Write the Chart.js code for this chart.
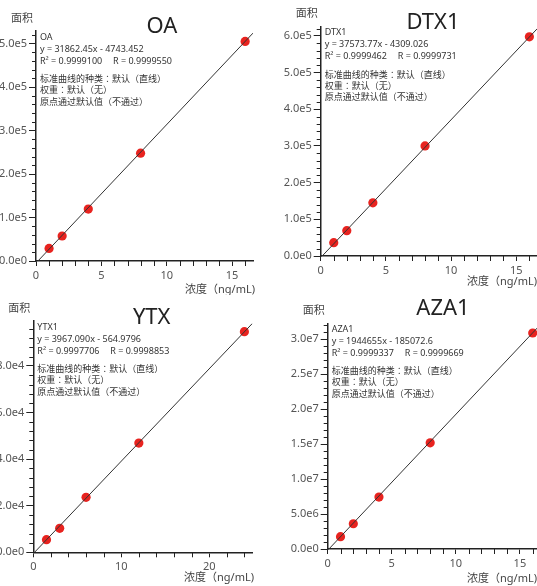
<!DOCTYPE html>
<html>
<head>
<meta charset="utf-8">
<script src="https://cdn.jsdelivr.net/npm/chart.js@4/dist/chart.umd.min.js"></script>
<style>
  html, body { margin: 0; padding: 0; background: #fff; overflow: hidden; width: 537px; height: 586px; }
  .panel { position: absolute; }
  canvas { display: block; }
</style>
</head>
<body>
<div class="panel" style="left:0;top:0"><canvas id="c0" width="268" height="295"></canvas></div>
<div class="panel" style="left:268px;top:0"><canvas id="c1" width="290" height="295"></canvas></div>
<div class="panel" style="left:0;top:295px"><canvas id="c2" width="268" height="291"></canvas></div>
<div class="panel" style="left:268px;top:295px"><canvas id="c3" width="290" height="291"></canvas></div>
<script>
// --- data ---
const titles = ['OA', 'DTX1', 'YTX', 'AZA1'];
const compoundNames = ['OA', 'DTX1', 'YTX1', 'AZA1'];

const concOA = [1, 2, 4, 8, 16];
const areaOA = [29000, 57500, 119500, 248000, 505000];
const concDTX1 = [1, 2, 4, 8, 16];
const areaDTX1 = [36300, 69000, 145000, 300000, 597500];
const concYTX = [1.5, 3, 6, 12, 24];
const areaYTX = [5400, 10300, 23600, 46900, 94700];
const concAZA1 = [1, 2, 4, 8, 16];
const areaAZA1 = [1760000, 3610000, 7430000, 15190000, 30900000];

const fitSlope = [31862.45, 37573.77, 3967.090, 1944655];
const fitIntercept = [-4743.452, -4309.026, -564.9796, -185072.6];
const equationText = ['y = 31862.45x - 4743.452', 'y = 37573.77x - 4309.026', 'y = 3967.090x - 564.9796', 'y = 1944655x - 185072.6'];
const r2Text = ['R² = 0.9999100', 'R² = 0.9999462', 'R² = 0.9997706', 'R² = 0.9999337'];
const rText = ['R = 0.9999550', 'R = 0.9999731', 'R = 0.9998853', 'R = 0.9999669'];
const curveInfo = ['标准曲线的种类：默认（直线）', '权重：默认（无）', '原点通过默认值（不通过）'];

const xMax = [16.6, 16.6, 24.9, 16.6];
const yMax = [529000, 625000, 99300, 32290000];
const xMajor = [5, 5, 10, 5];
const yMajor = [1e5, 1e5, 2e4, 5e6];

const yLabel = '面积';
const xLabel = '浓度（ng/mL)';

const concs = [concOA, concDTX1, concYTX, concAZA1];
const areas = [areaOA, areaDTX1, areaYTX, areaAZA1];

// --- layout of each panel (canvas pixels) ---
const areaBox = [
  { l: 36, t: 31, r: 253, b: 261 },
  { l: 52.7, t: 26.7, r: 269.2, b: 256 },
  { l: 33.3, t: 26, r: 252.3, b: 257.3 },
  { l: 59.7, t: 28.3, r: 272.4, b: 254 }
];
const titlePos = [[162, 33], [165, 28.5], [151.7, 28.5], [175, 19.5]];
const xLabelDy = [29, 26.3, 26, 30.3];
const xLabelRight = [255, 269, 254, 269];

const FONT = '"Noto Sans", "Noto Sans CJK JP", sans-serif';
const INK = '#222';

function majorTicks(step) {
  return s => {
    const list = [];
    for (let i = 0; i * step <= s.max + 1e-9; i++) list.push({ value: i * step });
    s.ticks = list;
  };
}

const minorTicks = {
  id: 'minorTicks',
  afterDraw(chart, args, opts) {
    const ctx = chart.ctx;
    const xs = chart.scales.x, ys = chart.scales.y;
    ctx.save();
    ctx.strokeStyle = INK;
    ctx.lineWidth = 1;
    ctx.beginPath();
    const xStep = opts.xMajor / 5;
    for (let i = 0; i * xStep <= xs.max + 1e-9; i++) {
      if (i % 5 === 0) continue;
      const px = Math.round(xs.getPixelForValue(i * xStep)) + 0.5;
      ctx.moveTo(px, ys.bottom);
      ctx.lineTo(px, ys.bottom + 5);
    }
    const yStep = opts.yMajor / 5;
    for (let i = 0; i * yStep <= ys.max + 1e-9; i++) {
      if (i % 5 === 0) continue;
      const py = Math.round(ys.getPixelForValue(i * yStep)) + 0.5;
      ctx.moveTo(xs.left - 4, py);
      ctx.lineTo(xs.left, py);
    }
    ctx.stroke();
    ctx.restore();
  }
};

const panelText = {
  id: 'panelText',
  afterDraw(chart, args, o) {
    const ctx = chart.ctx, a = chart.chartArea;
    ctx.save();
    // title
    ctx.fillStyle = INK;
    ctx.font = '22px ' + FONT;
    ctx.textAlign = 'center';
    ctx.textBaseline = 'alphabetic';
    ctx.fillText(o.title, o.titleX, o.titleY);
    // axis names
    ctx.fillStyle = '#444';
    ctx.font = '11px ' + FONT;
    ctx.textBaseline = 'middle';
    ctx.textAlign = 'right';
    ctx.fillText(yLabel, a.left - 3, a.top - 12.5);
    ctx.fillText(xLabel, o.xLabelRight, a.bottom + o.xLabelDy);
    // regression info
    ctx.fillStyle = '#333';
    ctx.font = '9px ' + FONT;
    ctx.textAlign = 'left';
    const x0 = a.left + 4, y0 = a.top + 6;
    ctx.fillText(o.name, x0, y0);
    ctx.fillText(o.eq, x0, y0 + 12);
    ctx.fillText(o.r2, x0, y0 + 24);
    ctx.fillText(o.r, x0 + 73, y0 + 24);
    ctx.fillText(curveInfo[0], x0, y0 + 42.5);
    ctx.fillText(curveInfo[1], x0, y0 + 53.5);
    ctx.fillText(curveInfo[2], x0, y0 + 65);
    ctx.restore();
  }
};

function buildChart(i) {
  const canvas = document.getElementById('c' + i);
  const box = areaBox[i];
  const W = canvas.width, H = canvas.height;
  const pts = concs[i].map((c, k) => ({ x: c, y: areas[i][k] }));
  const xStart = -fitIntercept[i] / fitSlope[i];
  const fitLine = [
    { x: xStart, y: 0 },
    { x: xMax[i], y: fitSlope[i] * xMax[i] + fitIntercept[i] }
  ];

  new Chart(canvas.getContext('2d'), {
    type: 'scatter',
    data: {
      datasets: [
        {
          type: 'line',
          data: fitLine,
          borderColor: '#333',
          borderWidth: 1,
          pointRadius: 0,
          fill: false
        },
        {
          data: pts,
          backgroundColor: '#e8231f',
          borderColor: '#e8231f',
          borderWidth: 0,
          pointRadius: 4.6
        }
      ]
    },
    options: {
      responsive: false,
      animation: false,
      events: [],
      layout: {
        padding: { left: 0, top: box.t, right: W - box.r, bottom: 0 }
      },
      scales: {
        x: {
          type: 'linear',
          min: 0,
          max: xMax[i],
          afterFit: s => { s.height = H - box.b; },
          afterBuildTicks: majorTicks(xMajor[i]),
          border: { color: INK, width: 1.5 },
          grid: { drawOnChartArea: false, tickLength: 5, color: INK, tickColor: INK },
          ticks: {
            autoSkip: false,
            maxRotation: 0,
            padding: 3,
            color: '#555',
            font: { family: FONT, size: 11 }
          }
        },
        y: {
          type: 'linear',
          min: 0,
          max: yMax[i],
          afterFit: s => { s.width = box.l; },
          afterBuildTicks: majorTicks(yMajor[i]),
          border: { color: INK, width: 1.5 },
          grid: { drawOnChartArea: false, tickLength: 7, color: INK, tickColor: INK },
          ticks: {
            autoSkip: false,
            padding: 2,
            color: '#555',
            font: { family: FONT, size: 11 },
            callback: v => v.toExponential(1).replace('+', '')
          }
        }
      },
      plugins: {
        legend: { display: false },
        tooltip: { enabled: false },
        minorTicks: { xMajor: xMajor[i], yMajor: yMajor[i] },
        panelText: {
          title: titles[i],
          titleX: titlePos[i][0],
          titleY: titlePos[i][1],
          xLabelDy: xLabelDy[i],
          xLabelRight: xLabelRight[i],
          name: compoundNames[i],
          eq: equationText[i],
          r2: r2Text[i],
          r: rText[i]
        }
      }
    },
    plugins: [minorTicks, panelText]
  });
}

for (let i = 0; i < 4; i++) buildChart(i);
</script>
</body>
</html>
